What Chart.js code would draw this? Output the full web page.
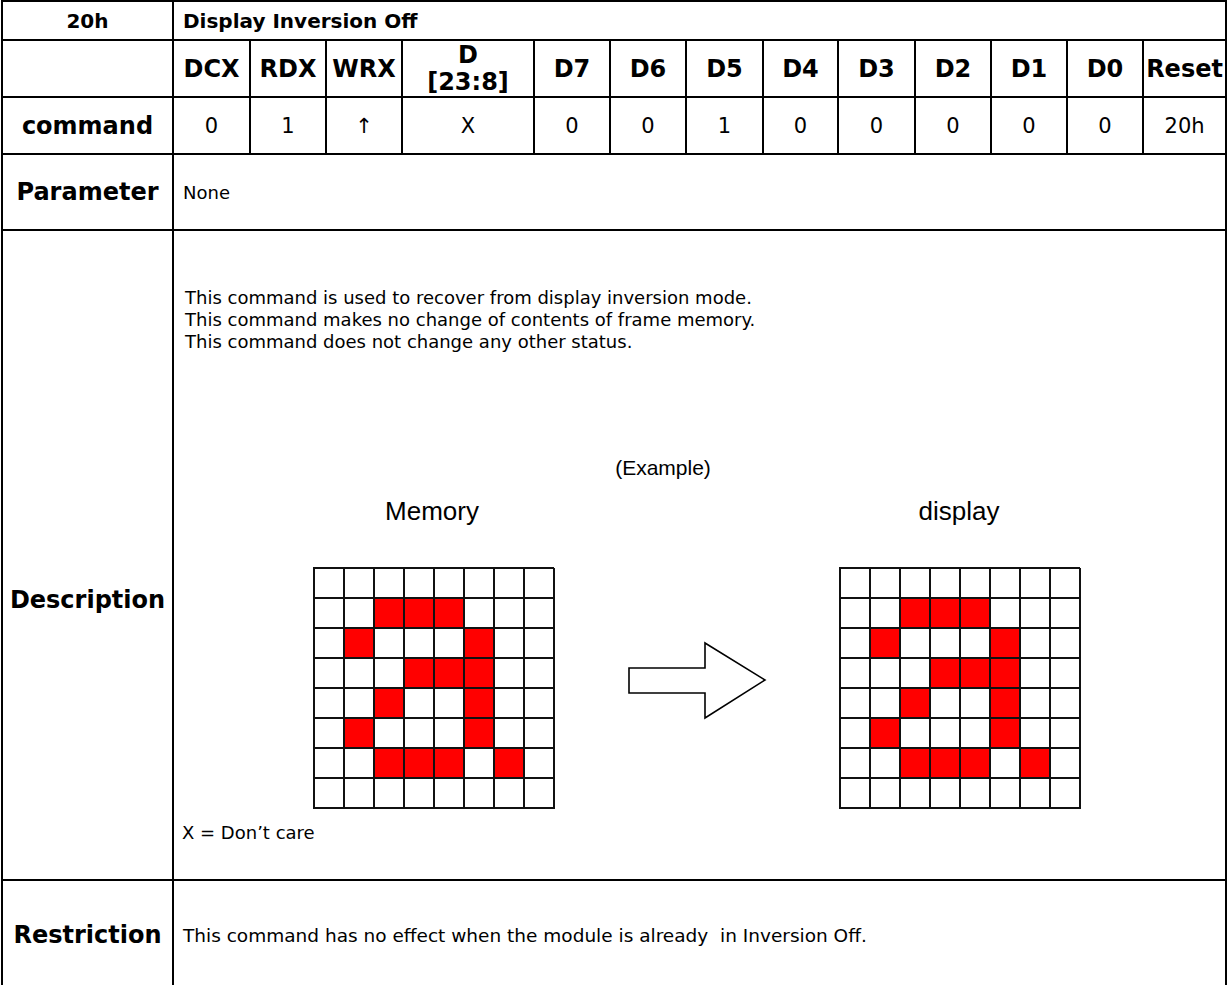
<!doctype html>
<html lang="en">
  <head>
    <meta charset="UTF-8" />
    <title>20h Display Inversion Off</title>
    <script src="https://cdn.jsdelivr.net/npm/chart.js"></script>
    <style>
      body {
        margin: 0;
        background: #fff;
        font-family: "DejaVu Sans", sans-serif;
        color: #000;
      }

      #page {
        position: relative;
        width: 1228px;
        height: 985px;
        overflow: hidden;
      }

      table {
        position: absolute;
        left: 1px;
        top: 0px;
        width: 1226px;
        border-collapse: collapse;
        table-layout: fixed;
      }

      td {
        border: 2px solid #000;
        padding: 0;
        text-align: center;
        font-size: 21px;
        white-space: nowrap;
      }

      .b {
        font-weight: bold;
        font-size: 24px;
      }

      .head {
        font-weight: bold;
        font-size: 20px;
      }

      .left {
        text-align: left;
        padding-left: 9px;
        font-size: 18px;
      }

      .two {
        line-height: 27px;
      }

      .txt {
        position: absolute;
        font-size: 18px;
        text-align: left;
        white-space: nowrap;
      }

      .arial {
        position: absolute;
        font-family: "Liberation Sans", Arial, sans-serif;
        text-align: center;
        white-space: nowrap;
      }

      canvas {
        position: absolute;
      }
    </style>
  </head>

  <body>
    <div id="page">
      <table>
        <colgroup id="cols"></colgroup>
        <tr style="height: 39px">
          <td class="head">20h</td>
          <td class="head" colspan="13" style="text-align: left; padding-left: 9px">
            Display Inversion Off
          </td>
        </tr>
        <tr style="height: 57px" id="bitNames"><td></td></tr>
        <tr style="height: 57px" id="bitValues"><td class="b">command</td></tr>
        <tr style="height: 76px">
          <td class="b">Parameter</td>
          <td class="left" colspan="13">None</td>
        </tr>
        <tr style="height: 650px">
          <td class="b" style="vertical-align: top; padding-top: 355px">Description</td>
          <td colspan="13">
            <div class="txt" id="descText" style="left: 183px; top: 286px; line-height: 22px"></div>
            <div class="arial" style="left: 561px; top: 455px; width: 200px; font-size: 21px; line-height: 24px">(Example)</div>
            <div class="arial" style="left: 330px; top: 495px; width: 200px; font-size: 26px; line-height: 30px">Memory</div>
            <div class="arial" style="left: 857px; top: 495px; width: 200px; font-size: 26px; line-height: 30px">display</div>
            <canvas id="memoryGrid" width="244" height="244" style="left: 310px; top: 565px"></canvas>
            <canvas id="displayGrid" width="244" height="244" style="left: 836px; top: 565px"></canvas>
            <svg style="position: absolute; left: 620px; top: 635px" width="150" height="90">
              <polygon
                points="7,32 83,32 83,7 143,44 83,82 83,57 7,57"
                fill="#fff"
                stroke="#000"
                stroke-width="1.6"
              />
            </svg>
            <div class="txt" style="left: 180px; top: 821px; line-height: 22px">X = Don’t care</div>
          </td>
        </tr>
        <tr style="height: 110px">
          <td class="b">Restriction</td>
          <td class="left" colspan="13" style="font-size: 18.5px">
            This command has no effect when the module is already&nbsp; in Inversion Off.
          </td>
        </tr>
      </table>
    </div>

    <script>
      // table columns (px between border centres)
      const colWidths = [171, 77, 76, 76, 132, 76, 76, 77, 75, 77, 76, 76, 76, 83];

      const bitNames = ["DCX", "RDX", "WRX", "D<br>[23:8]", "D7", "D6", "D5", "D4", "D3", "D2", "D1", "D0", "Reset"];
      const bitValues = ["0", "1", "↑", "X", "0", "0", "1", "0", "0", "0", "0", "0", "20h"];

      const descLines = [
        "This command is used to recover from display inversion mode.",
        "This command makes no change of contents of frame memory.",
        "This command does not change any other status.",
      ];

      // 8x8 example pattern, top row first (1 = red pixel)
      const gridCols = ["0", "1", "2", "3", "4", "5", "6", "7"];
      const memoryRows = [
        [0, 0, 0, 0, 0, 0, 0, 0],
        [0, 0, 1, 1, 1, 0, 0, 0],
        [0, 1, 0, 0, 0, 1, 0, 0],
        [0, 0, 0, 1, 1, 1, 0, 0],
        [0, 0, 1, 0, 0, 1, 0, 0],
        [0, 1, 0, 0, 0, 1, 0, 0],
        [0, 0, 1, 1, 1, 0, 1, 0],
        [0, 0, 0, 0, 0, 0, 0, 0],
      ];
      const displayRows = [
        [0, 0, 0, 0, 0, 0, 0, 0],
        [0, 0, 1, 1, 1, 0, 0, 0],
        [0, 1, 0, 0, 0, 1, 0, 0],
        [0, 0, 0, 1, 1, 1, 0, 0],
        [0, 0, 1, 0, 0, 1, 0, 0],
        [0, 1, 0, 0, 0, 1, 0, 0],
        [0, 0, 1, 1, 1, 0, 1, 0],
        [0, 0, 0, 0, 0, 0, 0, 0],
      ];

      document.getElementById("cols").innerHTML = colWidths
        .map((w) => `<col style="width:${w}px">`)
        .join("");
      document.getElementById("bitNames").innerHTML +=
        bitNames.map((n) => `<td class="b${n.includes("<br>") ? " two" : ""}">${n}</td>`).join("");
      document.getElementById("bitValues").innerHTML +=
        bitValues.map((v) => `<td>${v}</td>`).join("");
      document.getElementById("descText").innerHTML = descLines.join("<br>");

      function drawGrid(id, rows) {
        // stacked bars build from the bottom, so last row goes first
        const datasets = rows
          .slice()
          .reverse()
          .map((row) => ({
            data: row.map(() => 1),
            backgroundColor: row.map((v) => (v ? "#ff0000" : "#ffffff")),
            borderWidth: 0,
            barPercentage: 1,
            categoryPercentage: 1,
          }));

        const lines = {
          color: "#111",
          lineWidth: 2,
          drawTicks: false,
          z: 1,
        };
        const edge = { color: "#111", width: 2, z: 1 };

        new Chart(document.getElementById(id), {
          type: "bar",
          data: { labels: gridCols, datasets: datasets },
          options: {
            responsive: false,
            animation: false,
            events: [],
            layout: { padding: 2 },
            plugins: { legend: { display: false }, tooltip: { enabled: false } },
            scales: {
              x: {
                stacked: true,
                offset: true,
                grid: { ...lines, offset: true },
                border: edge,
                ticks: { display: false, autoSkip: false },
                afterFit: (s) => {
                  s.height = 0;
                },
              },
              y: {
                stacked: true,
                min: 0,
                max: 8,
                grid: lines,
                border: edge,
                ticks: { display: false, stepSize: 1 },
                afterFit: (s) => {
                  s.width = 0;
                },
              },
            },
          },
        });
      }

      drawGrid("memoryGrid", memoryRows);
      drawGrid("displayGrid", displayRows);
    </script>
  </body>
</html>
